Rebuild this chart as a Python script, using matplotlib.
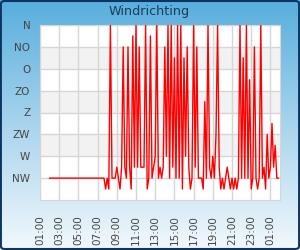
import numpy as np
import pandas as pd
import matplotlib
matplotlib.use("Agg")
import matplotlib.pyplot as plt
import matplotlib.dates as mdates
from matplotlib.colors import LinearSegmentedColormap
from matplotlib.patches import FancyBboxPatch

# wind direction codes: NW=1 ... N=8, half steps are the in-between directions
direction_labels = ["NW", "W", "ZW", "Z", "ZO", "O", "NO", "N"]
direction_codes = [1, 2, 3, 4, 5, 6, 7, 8]

start_time = "2024-01-01 02:00"
sample_interval = "10min"
wind_direction = [
    1, 1, 1, 1, 1, 1, 1, 1, 1, 1, 1, 1, 1, 1, 1, 1, 1, 1, 1, 1,
    1, 1, 1, 1, 1, 1, 1, 1, 1, 1, 1, 1, 1, 1, 1, 0.5, 1, 0.5, 8, 1,
    1, 1, 1.5, 1, 0.5, 1.5, 7, 1.5, 1, 7, 1.5, 0.5, 7.5, 1.5, 8, 1.5,
    7, 1.5, 1.5, 1.5, 8, 0.5, 1, 7.5, 1, 1.5, 2, 8, 1, 1.5, 1, 1.5,
    7, 2, 8, 1, 8, 1.5, 6.5, 1, 8, 1, 8, 0.5, 6.5, 2, 7, 1.5,
    0.5, 1, 8, 1.5, 7, 1, 1, 1, 0.5, 4.5, 1, 8, 1.5, 1, 2, 1,
    3, 8, 1.5, 0.5, 1, 0.5, 1, 1.5, 1, 0.5, 1, 0.5, 1, 0.5, 1, 8,
    1, 6.5, 1, 8, 1, 5.5, 0.5, 1, 7, 1, 0.5, 1, 8, 1, 1.5, 0.5,
    3, 1, 1.5, 3.5, 1.5, 2.5, 1, 1,
]
axis_start = "2024-01-01 01:00"
axis_end = "2024-01-02 02:00"

times = pd.date_range(start_time, periods=len(wind_direction), freq=sample_interval)

fig = plt.figure(figsize=(3.0, 2.5), dpi=100)

# gradient background with a dark rounded border
bg = fig.add_axes([0, 0, 1, 1], zorder=-10)
bg.axis("off")
grad = LinearSegmentedColormap.from_list("bg", ["#f2f8fc", "#a9d4ee", "#57aedc"])
bg.imshow(np.linspace(0, 1, 256).reshape(-1, 1), aspect="auto", cmap=grad,
          origin="lower", extent=[0, 1, 0, 1])
bg.set_xlim(0, 1)
bg.set_ylim(0, 1)
bg.add_patch(FancyBboxPatch((0.003, 0.004), 0.994, 0.992,
                            boxstyle="round,pad=0,rounding_size=0.012",
                            fill=False, edgecolor="#0d3563", linewidth=1.5))

fig.text(0.497, 0.955, "Windrichting", ha="center", va="center",
         fontsize=9.2, color="#1b3a5c")

ax = fig.add_axes([40 / 300, 50 / 250, 240 / 300, 175 / 250])
ax.set_facecolor("white")
for lo in (2, 4, 6):
    ax.axhspan(lo, lo + 1, color="#f2f2f2", zorder=0, linewidth=0)

ax.plot(times, wind_direction, color="#ff0000", linewidth=1.0, zorder=3)

ax.set_ylim(0, 8)
ax.set_yticks(direction_codes)
ax.set_yticklabels(direction_labels)
ax.set_xlim(pd.Timestamp(axis_start), pd.Timestamp(axis_end))
ax.xaxis.set_major_locator(mdates.HourLocator(byhour=range(1, 24, 2)))
ax.xaxis.set_major_formatter(mdates.DateFormatter("%H:%M"))

ax.grid(True, color="#d6d6d6", linewidth=1.0, zorder=1)
ax.set_axisbelow(True)
ax.tick_params(axis="both", length=0, labelsize=7.5, labelcolor="#444444")
ax.tick_params(axis="y", pad=7)
ax.tick_params(axis="x", pad=11, labelrotation=90)
for s in ax.spines.values():
    s.set_color("#d6d6d6")

fig.savefig("out.png", dpi=100)
